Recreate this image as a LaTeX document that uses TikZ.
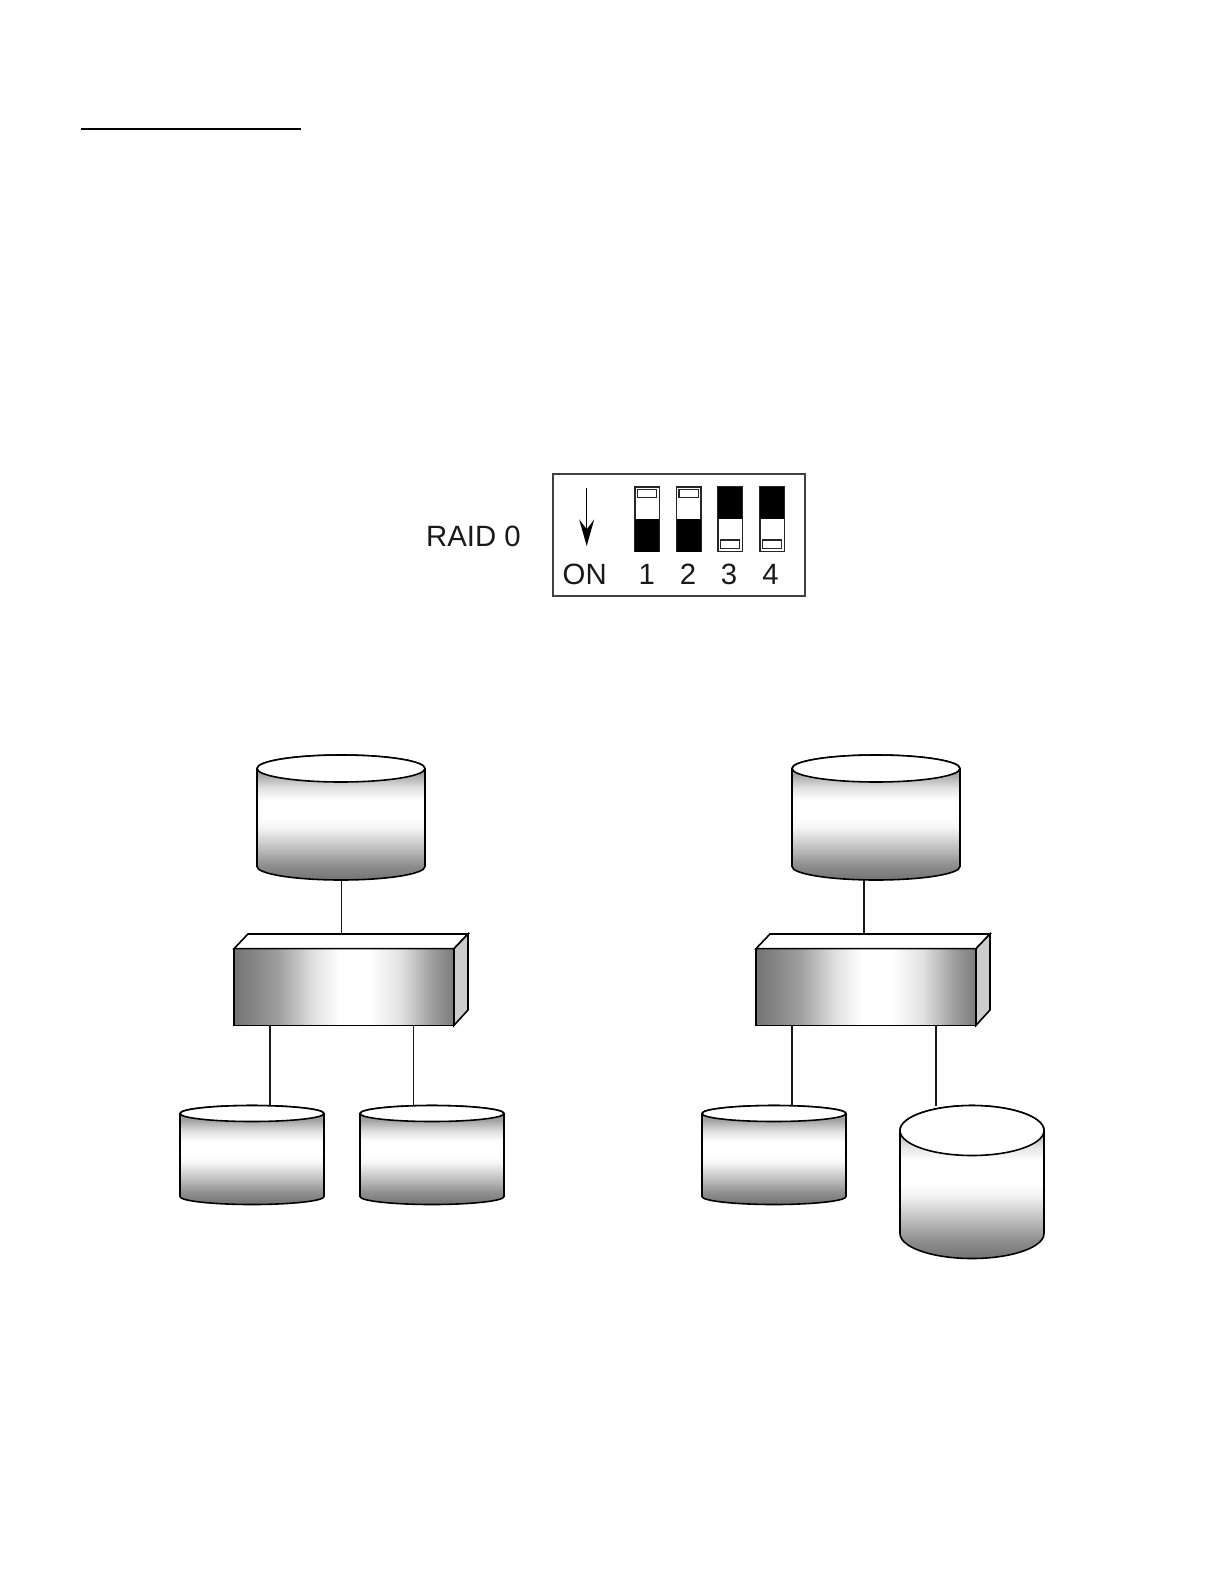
\documentclass[tikz,border=0pt]{standalone}
\usepackage{fontspec}
\setmainfont{Liberation Sans}
\usetikzlibrary{arrows.meta,positioning,calc}

\pgfdeclareverticalshading{drumgrad}{100bp}{color(0bp)=(black!55); color(25bp)=(black!55); color(31bp)=(black!44);
  color(37.5bp)=(black!26); color(46bp)=(black!4); color(50bp)=(white); color(57bp)=(white);
  color(62bp)=(black!12); color(67.5bp)=(black!36); color(75bp)=(black!42); color(100bp)=(black!42)}
\pgfdeclarehorizontalshading{ctrlgrad}{100bp}{color(0bp)=(black!55); color(25bp)=(black!55); color(35bp)=(black!38);
  color(43bp)=(black!12); color(49bp)=(white); color(56bp)=(white); color(63bp)=(black!12);
  color(70bp)=(black!38); color(75bp)=(black!52); color(100bp)=(black!52)}

% name, centre x, lid y, base y, half width, ellipse radius
\newcommand{\drum}[6]{
  \path[drumwall] ({#2-#5},#3) -- ({#2-#5},#4)
    arc[start angle=180,end angle=0,x radius=#5,y radius=#6]
    -- ({#2+#5},#3) arc[start angle=0,end angle=-180,x radius=#5,y radius=#6] -- cycle;
  \draw[drumlid] (#2,#3) ellipse[x radius=#5,y radius=#6];
  \node[drumspot,minimum width=#5*1.2pt,minimum height={(#4-#3+2*#6)*0.6pt}] (#1) at ({#2},{(#3+#4)/2}) {};
}

\begin{document}
\begin{tikzpicture}[
    >={Stealth[length=16pt,width=9pt,inset=6pt]},
    x=0.6pt, y=-0.6pt,
    drumwall/.style={draw=black,line width=0.95pt,shading=drumgrad},
    drumlid/.style={draw=black,line width=0.95pt,fill=white},
    drumspot/.style={inner sep=0pt,outer sep=0pt},
    ctrl/.style={draw=black,line width=0.95pt,shading=ctrlgrad,inner sep=0pt,outer sep=0pt,
                 minimum width=132pt,minimum height=46pt},
    ctrltop/.style={draw=black,line width=0.95pt,fill=white},
    ctrlside/.style={draw=black,line width=0.95pt,fill=black!20},
    link/.style={draw=black!90,line width=0.95pt},
    label/.style={font=\fontsize{17.6pt}{18pt}\selectfont,inner sep=0pt,text=black!90},
    dipframe/.style={draw=black!75,line width=1pt,inner sep=0pt,minimum width=151pt,minimum height=73.5pt},
    swbody/.style={draw=black!85,fill=white,line width=0.8pt,inner sep=0pt,minimum width=14.6pt,minimum height=38.6pt},
    swblock/.style={fill=black,inner sep=0pt,minimum width=14.6pt,minimum height=19.3pt},
    swslot/.style={draw=black!85,fill=white,line width=0.8pt,inner sep=0pt,minimum width=11.6pt,minimum height=5pt},
  ]
  \useasboundingbox (0,0) rectangle (1224,1584);

  % --- heading rule ---
  \coordinate (ruleL) at (81,129);
  \coordinate (ruleR) at (301,129);
  \draw[black,line width=1.1pt] (ruleL) -- (ruleR);

  % --- switch block ---
  \node[label,anchor=center] (raid) at (473.5,536.5) {RAID 0};
  \node[dipframe] (dip) at (679,535) {};
  \coordinate (onT) at (586.7,488);
  \coordinate (onB) at (586.7,546);
  \draw[->,black,line width=0.9pt] (onT) -- (onB);
  \node[label] (on) at (584.7,574.5) {ON};

  \node[swbody]  (sw1) at (647,519) {};
  \node[swblock,anchor=south] (blk1) at (sw1.south) {};
  \node[swslot]  (slot1) at (647,493.5) {};
  \node[swbody]  (sw2) at (688.7,519) {};
  \node[swblock,anchor=south] (blk2) at (sw2.south) {};
  \node[swslot]  (slot2) at (688.7,493.5) {};
  \node[swbody]  (sw3) at (730,519) {};
  \node[swblock,anchor=north] (blk3) at (sw3.north) {};
  \node[swslot]  (slot3) at (730,544) {};
  \node[swbody]  (sw4) at (772,519) {};
  \node[swblock,anchor=north] (blk4) at (sw4.north) {};
  \node[swslot]  (slot4) at (772,544) {};

  \node[label] (num1) at (646.7,574.5) {1};
  \node[label] (num2) at (688,574.5)   {2};
  \node[label] (num3) at (729,574.5)   {3};
  \node[label] (num4) at (770.5,574.5) {4};

  % --- left group ---
  \drum{drumA}{341}{768.5}{866.5}{84}{13.5}
  \node[ctrl] (ctrlA) at (344,987) {};
  \draw[ctrltop] (ctrlA.north west) -- +(14,-14.7) -- +(234,-14.7) -- (ctrlA.north east) -- cycle;
  \draw[ctrlside] (ctrlA.north east) -- +(14,-14.7) -- +(14,61.3) -- (ctrlA.south east) -- cycle;
  \drum{drumB}{252}{1113.5}{1196.5}{72}{8}
  \drum{drumC}{432}{1113.5}{1196.5}{72}{8}

  \coordinate (portA) at (341.5,934);
  \coordinate (portB) at (270,1025);
  \coordinate (portC) at (413.5,1025);
  \draw[link] (drumA.south -| portA) -- (portA);
  \draw[link] (portB) -- (portB |- drumB.north);
  \draw[link] (portC) -- (portC |- drumC.north);

  % --- right group ---
  \drum{drumD}{876}{768.5}{866.5}{84}{13.5}
  \node[ctrl] (ctrlB) at (866,987) {};
  \draw[ctrltop] (ctrlB.north west) -- +(14,-14.7) -- +(234,-14.7) -- (ctrlB.north east) -- cycle;
  \draw[ctrlside] (ctrlB.north east) -- +(14,-14.7) -- +(14,61.3) -- (ctrlB.south east) -- cycle;
  \drum{drumE}{774}{1113.5}{1196.5}{72}{8}
  \drum{drumF}{972}{1130.5}{1233.5}{72}{25}

  \coordinate (portD) at (864,934);
  \coordinate (portE) at (792,1025);
  \coordinate (portF) at (936,1025);
  \draw[link] (drumD.south -| portD) -- (portD);
  \draw[link] (portE) -- (portE |- drumE.north);
  \draw[link] (portF) -- (portF |- drumF.north);

\end{tikzpicture}
\end{document}
